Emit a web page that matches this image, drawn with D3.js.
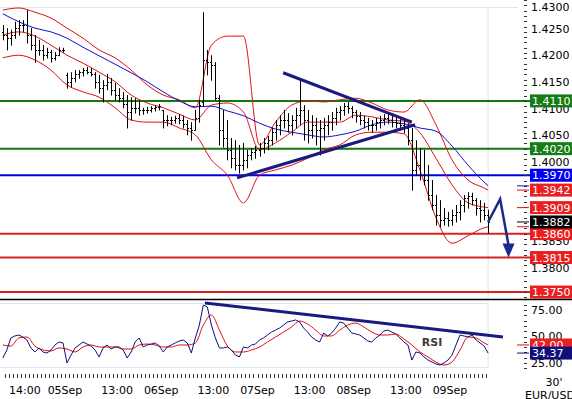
<!DOCTYPE html>
<html lang="en">
<head>
<meta charset="utf-8">
<title>EUR/USD 30'</title>
<script src="https://cdnjs.cloudflare.com/ajax/libs/d3/7.8.5/d3.min.js"></script>
<style>
  body { margin: 0; background: #fff; }
  svg { display: block; font-family: "DejaVu Sans", sans-serif; font-size: 11px; }
</style>
</head>
<body>
<div id="chart"></div>
<script>
const width = 572;
const height = 399;

// time is counted in hours from 05Sep 00:00, one bar per hour
const firstBarHour = -15.5;

const opens = [1.4240,1.4234,1.4228,1.4234,1.4247,1.4253,1.4253,1.4234,1.4215,1.4206,1.4206,1.4196,1.4202,1.4191,1.4196,1.4206,
  1.4159,1.4146,1.4153,1.4161,1.4164,1.4168,1.4164,1.4161,1.4146,1.4134,1.4140,1.4146,1.4131,1.4121,1.4115,1.4104,1.4089,1.4097,1.4097,1.4093,1.4093,1.4093,1.4097,1.4099,
  1.4093,1.4074,1.4074,1.4074,1.4078,1.4074,1.4067,1.4059,1.4055,1.4078,
  1.4108,1.4187,1.4183,1.4178,1.4115,1.4055,1.4040,1.4018,1.4002,1.3989,
  1.3989,1.3999,1.4008,1.4014,1.4018,1.4021,1.4031,1.4036,1.4051,1.4065,
  1.4074,1.4074,1.4065,1.4074,1.4083,1.4093,1.4074,1.4055,1.4065,1.4055,
  1.4059,1.4065,1.4070,1.4078,1.4089,1.4093,1.4100,1.4097,1.4089,1.4082,
  1.4074,1.4070,1.4065,1.4065,1.4070,1.4074,1.4078,1.4074,1.4070,1.4068,
  1.4065,1.4059,1.4036,1.3980,1.3989,1.3970,1.3961,1.3933,1.3914,1.3895,
  1.3886,1.3890,1.3886,1.3895,1.3901,1.3914,1.3927,1.3931,1.3923,1.3908,
  1.3905,1.3895];
const highs = [1.4253,1.4247,1.4244,1.4259,1.4262,1.4262,1.4281,1.4247,1.4234,1.4225,1.4215,1.4210,1.4206,1.4202,1.4211,1.4210,
  1.4163,1.4164,1.4168,1.4168,1.4172,1.4174,1.4172,1.4164,1.4159,1.4149,1.4161,1.4153,1.4144,1.4134,1.4127,1.4121,1.4117,1.4115,1.4112,1.4097,1.4099,1.4100,1.4102,1.4104,
  1.4093,1.4083,1.4080,1.4082,1.4085,1.4082,1.4074,1.4070,1.4093,1.4112,
  1.4277,1.4206,1.4196,1.4183,1.4121,1.4093,1.4074,1.4040,1.4036,1.4027,
  1.4031,1.4018,1.4021,1.4025,1.4031,1.4040,1.4044,1.4059,1.4074,1.4083,
  1.4093,1.4087,1.4083,1.4097,1.4149,1.4102,1.4093,1.4083,1.4078,1.4074,
  1.4078,1.4083,1.4089,1.4097,1.4100,1.4106,1.4108,1.4100,1.4093,1.4089,
  1.4082,1.4078,1.4074,1.4078,1.4082,1.4085,1.4087,1.4083,1.4080,1.4078,
  1.4074,1.4068,1.4059,1.4036,1.4021,1.4018,1.3989,1.3961,1.3933,1.3923,
  1.3908,1.3901,1.3905,1.3914,1.3923,1.3933,1.3938,1.3937,1.3927,1.3923,
  1.3918,1.3905];
const lows = [1.4225,1.4206,1.4215,1.4228,1.4234,1.4240,1.4219,1.4206,1.4183,1.4196,1.4187,1.4191,1.4183,1.4187,1.4195,1.4202,
  1.4134,1.4136,1.4146,1.4153,1.4157,1.4161,1.4157,1.4134,1.4125,1.4108,1.4131,1.4121,1.4112,1.4108,1.4097,1.4059,1.4074,1.4087,1.4083,1.4085,1.4087,1.4089,1.4091,1.4093,
  1.4059,1.4063,1.4065,1.4068,1.4067,1.4059,1.4046,1.4036,1.4055,1.4070,
  1.4100,1.4159,1.4149,1.4112,1.4027,1.4023,1.3999,1.3984,1.3980,1.3974,
  1.3980,1.3984,1.3999,1.4002,1.4006,1.4012,1.4018,1.4027,1.4036,1.4046,
  1.4059,1.4051,1.4046,1.4059,1.4065,1.4036,1.4031,1.4040,1.4027,1.4008,
  1.4036,1.4046,1.4055,1.4065,1.4074,1.4083,1.4087,1.4078,1.4070,1.4065,
  1.4059,1.4055,1.4051,1.4055,1.4059,1.4065,1.4067,1.4061,1.4059,1.4055,
  1.4050,1.4027,1.3942,1.3970,1.3961,1.3952,1.3923,1.3905,1.3876,1.3873,
  1.3876,1.3874,1.3876,1.3882,1.3886,1.3901,1.3908,1.3914,1.3895,1.3882,
  1.3886,1.3861];
const closes = [1.4234,1.4228,1.4234,1.4247,1.4253,1.4253,1.4234,1.4215,1.4206,1.4206,1.4196,1.4202,1.4191,1.4196,1.4206,1.4206,
  1.4146,1.4153,1.4161,1.4164,1.4168,1.4164,1.4161,1.4146,1.4134,1.4140,1.4146,1.4131,1.4121,1.4115,1.4104,1.4089,1.4097,1.4097,1.4093,1.4093,1.4093,1.4097,1.4099,1.4100,
  1.4074,1.4074,1.4074,1.4078,1.4074,1.4067,1.4059,1.4055,1.4078,1.4102,
  1.4187,1.4183,1.4178,1.4115,1.4055,1.4040,1.4018,1.4002,1.3989,1.3989,
  1.3999,1.4008,1.4014,1.4018,1.4021,1.4031,1.4036,1.4051,1.4065,1.4074,
  1.4074,1.4065,1.4074,1.4083,1.4093,1.4074,1.4055,1.4065,1.4055,1.4059,
  1.4065,1.4070,1.4078,1.4089,1.4093,1.4100,1.4097,1.4089,1.4082,1.4074,
  1.4070,1.4065,1.4065,1.4070,1.4074,1.4078,1.4074,1.4070,1.4068,1.4065,
  1.4059,1.4036,1.3980,1.3989,1.3970,1.3961,1.3933,1.3914,1.3895,1.3886,
  1.3890,1.3886,1.3895,1.3901,1.3914,1.3927,1.3931,1.3923,1.3908,1.3905,
  1.3895,1.3882];

// bollinger bands and moving average, read every 4th bar (plus the last one)
const bbUpper = [1.4281,1.4285,1.4277,1.4266,1.4247,1.4228,1.4206,1.4191,1.4168,1.4140,1.4121,1.4112,1.4097,1.4215,1.4232,1.4232,
  1.4027,1.4070,1.4102,1.4110,1.4108,1.4112,1.4115,1.4106,1.4093,1.4089,1.4112,1.4065,1.3999,1.3961,1.3946,1.3942];
const bbMiddle = [1.4234,1.4240,1.4232,1.4215,1.4196,1.4181,1.4164,1.4146,1.4121,1.4106,1.4097,1.4085,1.4074,1.4102,1.4106,1.4089,
  1.4018,1.4031,1.4051,1.4070,1.4070,1.4070,1.4083,1.4080,1.4074,1.4072,1.4050,1.4002,1.3952,1.3918,1.3910,1.3909];
const bbLower = [1.4191,1.4196,1.4187,1.4168,1.4140,1.4127,1.4117,1.4097,1.4074,1.4070,1.4070,1.4059,1.4046,1.3999,1.3970,1.3918,
  1.3970,1.3980,1.3989,1.4002,1.4018,1.4027,1.4046,1.4051,1.4051,1.4048,1.3980,1.3890,1.3842,1.3856,1.3871,1.3873];
const movingAvg = [1.4274,1.4259,1.4247,1.4240,1.4228,1.4211,1.4195,1.4179,1.4163,1.4146,1.4127,1.4110,1.4099,1.4100,1.4091,1.4082,
  1.4068,1.4057,1.4051,1.4046,1.4042,1.4046,1.4053,1.4065,1.4070,1.4067,1.4059,1.4053,1.4025,1.3989,1.3957,1.3950];

// RSI for every bar, signal line every 2nd bar (plus the last one)
const rsiValues = [29.7,37.3,48.6,50.5,51.4,49.5,46.7,39.2,35.4,39.2,35.4,34.4,37.3,42.0,44.8,43.9,
  25.0,32.5,39.2,42.0,44.8,42.9,41.0,37.3,30.7,39.2,42.0,38.2,40.1,40.1,37.3,29.7,35.4,44.8,48.6,40.1,42.0,42.9,43.9,41.0,
  35.4,40.1,42.0,43.9,45.8,46.7,43.9,34.4,48.6,60.8,
  79.7,77.8,60.8,48.6,39.2,39.2,40.1,37.3,32.5,30.7,
  40.1,39.2,42.0,42.9,46.7,48.6,51.4,54.2,56.1,58.0,
  60.8,63.7,64.6,65.6,63.7,58.0,54.2,49.5,46.7,44.8,
  53.3,50.5,53.3,58.0,63.7,62.7,58.0,53.3,52.4,51.4,
  48.6,45.8,44.8,48.6,51.4,55.2,56.1,54.2,52.4,48.6,
  44.8,42.0,27.8,35.4,34.4,30.7,27.8,25.9,24.1,23.1,
  25.0,27.8,32.5,42.0,51.4,50.5,49.5,51.4,46.7,43.9,
  41.0,34.37];
const rsiSignal = [42.0,41.0,48.6,49.5,41.0,37.3,36.3,39.2,38.2,35.4,40.1,42.0,40.1,40.1,40.1,38.2,38.2,42.0,42.9,42.0,
  40.1,40.1,42.0,42.0,43.9,60.8,70.3,56.1,41.0,35.4,35.4,37.3,40.1,44.8,49.5,54.2,59.0,64.6,61.8,56.1,
  50.5,50.5,56.1,60.8,62.7,59.0,54.2,51.4,51.4,52.4,47.6,42.0,35.4,30.7,25.9,23.1,25.9,37.3,49.5,48.6,
  43.9,42.0];

// support / resistance levels
const levelValues = [1.4110, 1.4020, 1.3970, 1.3860, 1.3815, 1.3750];
const levelKinds = ["resistance", "resistance", "pivot", "support", "support", "support"];

// drawn trendlines [hour, price]
const priceTrendlines = [
  [[54.4, 1.4163], [86.5, 1.4070]],
  [[42.9, 1.3965], [87.3, 1.4065]]
];
const arrowPoints = [[105.5, 1.3882], [108.5, 1.3925], [110.6, 1.3838]];
const arrowTip = [110.6, 1.3815];
const rsiTrendline = [[34.9, 81.6], [109.2, 49.5]];

const priceTicks = [1.4300, 1.4250, 1.4200, 1.4150, 1.4100, 1.4050, 1.4000, 1.3950, 1.3900, 1.3850, 1.3800];
const rsiTicks = [75, 50, 25];
const timeTickHours = [-10, 0, 13, 24, 37, 48, 61, 72, 85, 96];
const timeTickLabels = ["14:00", "05Sep", "13:00", "06Sep", "13:00", "07Sep", "13:00", "08Sep", "13:00", "09Sep"];

const svg = d3.select("#chart")
  .append("svg")
  .attr("width", width)
  .attr("height", height);

const x = d3.scaleLinear().domain([0, 96]).range([65, 450]);
const y = d3.scaleLinear().domain([1.38, 1.43]).range([265.5, 0]);
const yRsi = d3.scaleLinear().domain([25, 75]).range([363, 310]);

const levelColor = d3.scaleOrdinal()
  .domain(["resistance", "pivot", "support"])
  .range(["#137713", "#0000dd", "#d92222"]);
const labelColor = d3.scaleOrdinal()
  .domain(["resistance", "pivot", "support"])
  .range(["#167c16", "#0000ee", "#e82020"]);

const barHour = i => firstBarHour + i;
const lastIndex = closes.length - 1;
const bandIdx = d3.range(0, lastIndex, 4).concat([lastIndex]);
const signalIdx = d3.range(0, lastIndex, 2).concat([lastIndex]);
const lastX = x(barHour(lastIndex));

// light grid frame
const grid = svg.append("g").attr("stroke", "#dde4ec").attr("fill", "none");
grid.append("line").attr("x1", 0).attr("x2", 518).attr("y1", 7.5).attr("y2", 7.5);
grid.append("line").attr("x1", lastX).attr("x2", lastX).attr("y1", 7).attr("y2", 299);
grid.append("line").attr("x1", 0).attr("x2", lastX).attr("y1", 303.5).attr("y2", 303.5);
grid.append("line").attr("x1", 0).attr("x2", lastX).attr("y1", 367.5).attr("y2", 367.5);
grid.append("line").attr("x1", lastX).attr("x2", lastX).attr("y1", 303).attr("y2", 368);

// horizontal levels
svg.append("g")
  .selectAll("line")
  .data(levelValues)
  .join("line")
    .attr("x1", 0)
    .attr("x2", 531)
    .attr("y1", d => y(d))
    .attr("y2", d => y(d))
    .attr("stroke", (d, i) => levelColor(levelKinds[i]))
    .attr("stroke-width", 2);

// bands and average
const bandLine = d3.line()
  .x(d => x(barHour(d[0])))
  .y(d => y(d[1]))
  .curve(d3.curveMonotoneX);

[bbUpper, bbMiddle, bbLower].forEach(band => {
  svg.append("path")
    .datum(bandIdx.map((b, k) => [b, band[k]]))
    .attr("d", bandLine)
    .attr("fill", "none")
    .attr("stroke", "#e01010")
    .attr("stroke-width", 1);
});

svg.append("path")
  .datum(bandIdx.map((b, k) => [b, movingAvg[k]]))
  .attr("d", bandLine)
  .attr("fill", "none")
  .attr("stroke", "#1010c8")
  .attr("stroke-width", 1);

// OHLC bars
const bars = svg.append("g").attr("stroke", "#000").attr("stroke-width", 1);
closes.forEach((c, i) => {
  const bx = Math.round(x(barHour(i))) + 0.5;
  bars.append("line").attr("x1", bx).attr("x2", bx)
    .attr("y1", y(highs[i])).attr("y2", y(lows[i]) + 0.5);
  bars.append("line").attr("x1", bx - 1.5).attr("x2", bx)
    .attr("y1", Math.round(y(opens[i])) + 0.5).attr("y2", Math.round(y(opens[i])) + 0.5);
  bars.append("line").attr("x1", bx).attr("x2", bx + 1.5)
    .attr("y1", Math.round(y(c)) + 0.5).attr("y2", Math.round(y(c)) + 0.5);
});

// trendlines
const trend = d3.line().x(d => x(d[0])).y(d => y(d[1]));
priceTrendlines.forEach(t => {
  svg.append("path").attr("d", trend(t))
    .attr("stroke", "#1a1a80").attr("stroke-width", 3).attr("fill", "none");
});

// forecast arrow
svg.append("path").attr("d", trend(arrowPoints))
  .attr("stroke", "#1a2a8a").attr("stroke-width", 2.5).attr("fill", "none")
  .attr("stroke-linejoin", "miter");
const tipX = x(arrowTip[0]), tipY = y(arrowTip[1]);
svg.append("path")
  .attr("d", `M${tipX - 6},${tipY - 14}L${tipX + 6},${tipY - 14}L${tipX},${tipY}Z`)
  .attr("fill", "#1a2a8a");

// price tags (level values, band ends and last close)
const tags = levelValues.map((v, i) => [v, labelColor(levelKinds[i])]);
tags.push([bbUpper[bbUpper.length - 1], "#e82020"]);
tags.push([bbMiddle[bbMiddle.length - 1], "#e82020"]);
tags.push([closes[lastIndex], "#000"]);

// right price axis
const axisG = svg.append("g").attr("stroke", "#333");
d3.range(1.3740, 1.43005, 0.001).forEach(v => {
  const ty = Math.round(y(v)) + 0.5;
  axisG.append("line").attr("x1", 524).attr("x2", 527).attr("y1", ty).attr("y2", ty);
});

// tick labels that sit completely under the tags are not drawn
const labelY = d => Math.max(7, y(d) + 2.5);
const visibleRows = d => {
  const c = labelY(d);
  let n = 0;
  for (let r = c - 4.5; r < c + 4.5; r += 0.5) {
    if (!tags.some(t => Math.abs(y(t[0]) - r) <= 6.5)) n += 0.5;
  }
  return n;
};
svg.append("g")
  .selectAll("text")
  .data(priceTicks.filter(d => visibleRows(d) >= 3))
  .join("text")
    .attr("x", 531)
    .attr("y", labelY)
    .attr("dy", "0.35em")
    .attr("fill", "#000")
    .text(d => d.toFixed(4));

// value stubs at the right end
const stubs = [
  [movingAvg[movingAvg.length - 1], "#1010c8"],
  [bbUpper[bbUpper.length - 1], "#e01010"],
  [bbMiddle[bbMiddle.length - 1], "#e01010"],
  [closes[lastIndex], "#000"],
  [bbLower[bbLower.length - 1], "#e01010"]
];
stubs.forEach(s => {
  svg.append("line").attr("x1", 517).attr("x2", 529)
    .attr("y1", y(s[0])).attr("y2", y(s[0]))
    .attr("stroke", s[1]).attr("stroke-width", 1);
});

const tagG = svg.append("g").selectAll("g").data(tags).join("g")
  .attr("transform", d => `translate(530,${y(d[0])})`);
tagG.append("rect").attr("x", 0).attr("y", -6.5).attr("width", 44).attr("height", 13)
  .attr("fill", d => d[1]);
tagG.append("text").attr("x", 2).attr("dy", "0.36em").attr("fill", "#fff")
  .text(d => d[0].toFixed(4));

// panel separator
svg.append("line").attr("x1", 0).attr("x2", width).attr("y1", 299.5).attr("y2", 299.5)
  .attr("stroke", "#000").attr("stroke-width", 1.5);

// RSI panel
svg.append("path")
  .datum(signalIdx.map((b, k) => [b, rsiSignal[k]]))
  .attr("d", d3.line().x(d => x(barHour(d[0]))).y(d => yRsi(d[1])).curve(d3.curveMonotoneX))
  .attr("fill", "none").attr("stroke", "#e01010").attr("stroke-width", 1);

svg.append("path")
  .datum(rsiValues)
  .attr("d", d3.line().x((d, i) => x(barHour(i))).y(d => yRsi(d)))
  .attr("fill", "none").attr("stroke", "#10107a").attr("stroke-width", 1);

svg.append("path")
  .attr("d", d3.line().x(d => x(d[0])).y(d => yRsi(d[1]))(rsiTrendline))
  .attr("stroke", "#1a1a80").attr("stroke-width", 3).attr("fill", "none");

svg.append("text").attr("x", 432).attr("y", 342).attr("dy", "0.35em")
  .attr("text-anchor", "middle").attr("font-weight", "bold").attr("fill", "#3a3a3a")
  .text("RSI");

// RSI axis
d3.range(20, 81, 5).forEach(v => {
  const ty = Math.round(yRsi(v)) + 0.5;
  axisG.append("line").attr("x1", 524).attr("x2", 527).attr("y1", ty).attr("y2", ty);
});
svg.append("g").selectAll("text").data(rsiTicks).join("text")
  .attr("x", 531).attr("y", d => yRsi(d)).attr("dy", "0.35em")
  .text(d => d.toFixed(2));

const rsiLastSignal = rsiSignal[rsiSignal.length - 1];
const rsiLast = rsiValues[lastIndex];
svg.append("line").attr("x1", 517).attr("x2", 529).attr("y1", yRsi(rsiLastSignal)).attr("y2", yRsi(rsiLastSignal))
  .attr("stroke", "#e01010");
svg.append("line").attr("x1", 517).attr("x2", 529).attr("y1", yRsi(rsiLast)).attr("y2", yRsi(rsiLast))
  .attr("stroke", "#10107a");
[[rsiLastSignal, "#e82020"], [rsiLast, "#101078"]].forEach(t => {
  const g = svg.append("g").attr("transform", `translate(530,${yRsi(t[0])})`);
  g.append("rect").attr("y", -6.5).attr("width", 44).attr("height", 13).attr("fill", t[1]);
  g.append("text").attr("x", 2).attr("dy", "0.36em").attr("fill", "#fff").text(t[0].toFixed(2));
});

// time axis
const timeTicks = svg.append("g").attr("stroke", "#333");
d3.range(-15, 106, 1).forEach(h => {
  const tx = Math.round(x(h)) + 0.5;
  timeTicks.append("line").attr("x1", tx).attr("x2", tx).attr("y1", 374).attr("y2", 378);
});
svg.append("g").selectAll("text").data(timeTickHours).join("text")
  .attr("x", d => x(d)).attr("y", 390).attr("dy", "0.35em")
  .attr("text-anchor", "middle")
  .text((d, i) => timeTickLabels[i]);

svg.append("text").attr("x", 554).attr("y", 382).attr("dy", "0.35em")
  .attr("text-anchor", "middle").text("30'");
svg.append("text").attr("x", 525).attr("y", 395).attr("dy", "0.35em").text("EUR/USD");
</script>
</body>
</html>
